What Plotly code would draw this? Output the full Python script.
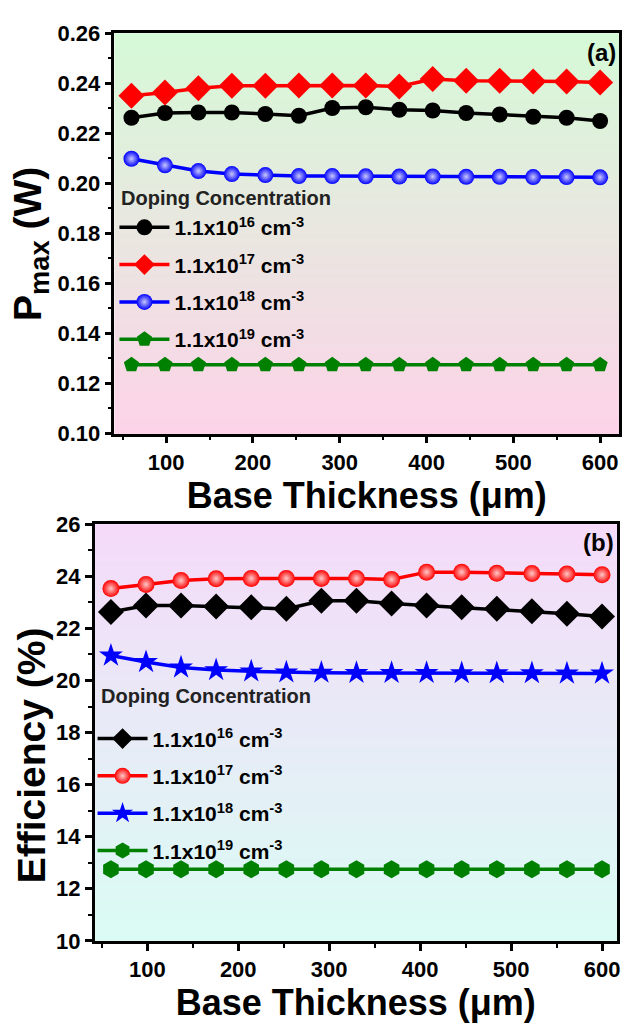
import plotly.graph_objects as go

# ---------------- data ----------------
thickness = [60, 98.6, 137.1, 175.7, 214.3, 252.9, 291.4, 330, 368.6, 407.1, 445.7, 484.3, 522.9, 561.4, 600]
series_labels = ["1.1x10<sup>16</sup> cm<sup>-3</sup>", "1.1x10<sup>17</sup> cm<sup>-3</sup>",
                 "1.1x10<sup>18</sup> cm<sup>-3</sup>", "1.1x10<sup>19</sup> cm<sup>-3</sup>"]
legend_title = "Doping Concentration"
pmax_16 = [0.2262, 0.2281, 0.2283, 0.2283, 0.2277, 0.2270, 0.2301, 0.2304, 0.2294, 0.2291, 0.2281, 0.2275, 0.2266, 0.2262, 0.2249]
pmax_17 = [0.2350, 0.2363, 0.2380, 0.2390, 0.2390, 0.2391, 0.2391, 0.2391, 0.2387, 0.2417, 0.2410, 0.2410, 0.2407, 0.2407, 0.2403]
pmax_18 = [0.2098, 0.2072, 0.2049, 0.2037, 0.2033, 0.2029, 0.2029, 0.2028, 0.2027, 0.2027, 0.2026, 0.2026, 0.2025, 0.2025, 0.2024]
pmax_19 = [0.1275, 0.1275, 0.1275, 0.1275, 0.1275, 0.1275, 0.1275, 0.1275, 0.1275, 0.1275, 0.1275, 0.1275, 0.1275, 0.1275, 0.1275]
eff_16 = [22.63, 22.88, 22.88, 22.84, 22.81, 22.75, 23.06, 23.06, 22.96, 22.88, 22.81, 22.75, 22.66, 22.56, 22.46]
eff_17 = [23.53, 23.69, 23.84, 23.91, 23.92, 23.92, 23.92, 23.92, 23.88, 24.16, 24.16, 24.12, 24.11, 24.09, 24.06]
eff_18 = [20.96, 20.71, 20.50, 20.40, 20.35, 20.31, 20.30, 20.29, 20.29, 20.29, 20.28, 20.28, 20.28, 20.27, 20.27]
eff_19 = [12.75, 12.75, 12.75, 12.75, 12.75, 12.75, 12.75, 12.75, 12.75, 12.75, 12.75, 12.75, 12.75, 12.75, 12.75]

W, H = 626, 1029
FONT = "Arial, Liberation Sans, sans-serif"

fig = go.Figure()

def add(x, y, name, color, symbol, size, xa, ya, leg, grp, gradient=None):
    marker = dict(color=color, symbol=symbol, size=size, line=dict(width=0))
    if gradient:
        marker["gradient"] = dict(type="radial", color=gradient)
    fig.add_trace(go.Scatter(x=x, y=y, name=name, mode="lines+markers",
                             line=dict(color=color, width=3.5), marker=marker,
                             xaxis=xa, yaxis=ya, legend=leg, legendgroup=grp))

# top panel
add(thickness, pmax_16, series_labels[0], "black", "circle", 16, "x", "y", "legend", "a1")
add(thickness, pmax_17, series_labels[1], "#ff0000", "diamond", 20, "x", "y", "legend", "a2")
add(thickness, pmax_18, series_labels[2], "#0000ff", "circle", 16, "x", "y", "legend", "a3", gradient="#c8c8ff")
add(thickness, pmax_19, series_labels[3], "#008000", "pentagon", 16, "x", "y", "legend", "a4")
# bottom panel
add(thickness, eff_16, series_labels[0], "black", "diamond", 20, "x2", "y2", "legend2", "b1")
add(thickness, eff_17, series_labels[1], "#ff0000", "circle", 17, "x2", "y2", "legend2", "b2", gradient="#ffc8c8")
add(thickness, eff_18, series_labels[2], "#0000ff", "star", 18, "x2", "y2", "legend2", "b3")
add(thickness, eff_19, series_labels[3], "#008000", "hexagon", 18, "x2", "y2", "legend2", "b4")

# gradient backgrounds as thin strips
def lerp(c1, c2, t):
    return "rgb(%d,%d,%d)" % tuple(round(a + (b - a) * t) for a, b in zip(c1, c2))

shapes = []
N = 80
for xr, yr, ctop, cbot in [("x domain", "y domain", (213, 250, 215), (253, 211, 233)),
                           ("x2 domain", "y2 domain", (245, 218, 249), (218, 252, 244))]:
    for i in range(N):
        t = (i + 0.5) / N
        shapes.append(dict(type="rect", xref=xr, yref=yr, x0=0, x1=1,
                           y0=1 - (i + 1) / N - 0.002, y1=1 - i / N,
                           fillcolor=lerp(ctop, cbot, t), line=dict(width=0), layer="below"))

axis_common = dict(showline=True, linewidth=2.5, linecolor="black", mirror=True,
                   ticks="outside", ticklen=7, tickwidth=2.5, tickcolor="black",
                   showgrid=False, zeroline=False,
                   tickfont=dict(family=FONT, size=22, color="black", weight="bold"))
title_font = dict(family=FONT, size=36, color="black", weight="bold")
ytitle_font = dict(family=FONT, size=39, color="black", weight="bold")
leg_font = dict(family=FONT, size=21, color="black", weight="bold")
leg_title_font = dict(family=FONT, size=20, color="#222", weight="bold")

fig.update_layout(
    width=W, height=H, margin=dict(l=0, r=0, t=0, b=0),
    paper_bgcolor="white", plot_bgcolor="rgba(0,0,0,0)",
    shapes=shapes,
    xaxis=dict(domain=[115 / W, 622 / W], range=[40.4, 621.8], anchor="y", tick0=0, dtick=100,
               minor=dict(dtick=50, ticks="outside", ticklen=4, tickwidth=2, tickcolor="black"),
               title=dict(text="Base Thickness (μm)", font=title_font, standoff=0), **axis_common),
    yaxis=dict(domain=[1 - 432 / H, 1 - 21.7 / H], range=[0.10, 0.26], anchor="x", dtick=0.02,
               tickformat=".2f",
               minor=dict(dtick=0.01, ticks="outside", ticklen=4, tickwidth=2, tickcolor="black"),
               **axis_common),
    xaxis2=dict(domain=[95 / W, 620 / W], range=[42, 616.5], anchor="y2", tick0=0, dtick=100,
                minor=dict(dtick=50, ticks="outside", ticklen=4, tickwidth=2, tickcolor="black"),
                title=dict(text="Base Thickness (μm)", font=title_font, standoff=0), **axis_common),
    yaxis2=dict(domain=[1 - 952 / H, 1 - 525 / H], range=[10, 26], anchor="x2", dtick=2,
                minor=dict(dtick=1, ticks="outside", ticklen=4, tickwidth=2, tickcolor="black"),
                **axis_common),
    legend=dict(x=115 / W, y=1 - 200 / H, xanchor="left", yanchor="top",
                bgcolor="rgba(0,0,0,0)", itemwidth=50, tracegroupgap=7, font=leg_font),
    legend2=dict(x=93 / W, y=1 - 724 / H, xanchor="left", yanchor="top",
                 bgcolor="rgba(0,0,0,0)", itemwidth=50, tracegroupgap=7, font=leg_font),
    annotations=[
        dict(text=legend_title, xref="paper", yref="paper", x=120 / W, y=1 - 191 / H,
             xanchor="left", yanchor="middle", showarrow=False, font=leg_title_font),
        dict(text=legend_title, xref="paper", yref="paper", x=99 / W, y=1 - 701 / H,
             xanchor="left", yanchor="middle", showarrow=False, font=leg_title_font),
        dict(text="P<sub>max</sub> (W)", xref="paper", yref="paper", x=30 / W, y=1 - 238 / H,
             xanchor="center", yanchor="middle", textangle=-90, showarrow=False, font=ytitle_font),
        dict(text="Efficiency (%)", xref="paper", yref="paper", x=32 / W, y=1 - 762 / H,
             xanchor="center", yanchor="middle", textangle=-90, showarrow=False, font=ytitle_font),
        dict(text="(a)", xref="paper", yref="paper", x=621 / W, y=1 - 26 / H, xanchor="right", yanchor="top",
             showarrow=False, font=dict(family=FONT, size=24, color="black", weight="bold")),
        dict(text="(b)", xref="paper", yref="paper", x=619 / W, y=1 - 528 / H, xanchor="right", yanchor="top",
             showarrow=False, font=dict(family=FONT, size=24, color="black", weight="bold")),
    ],
)

fig.write_html("out.html")
